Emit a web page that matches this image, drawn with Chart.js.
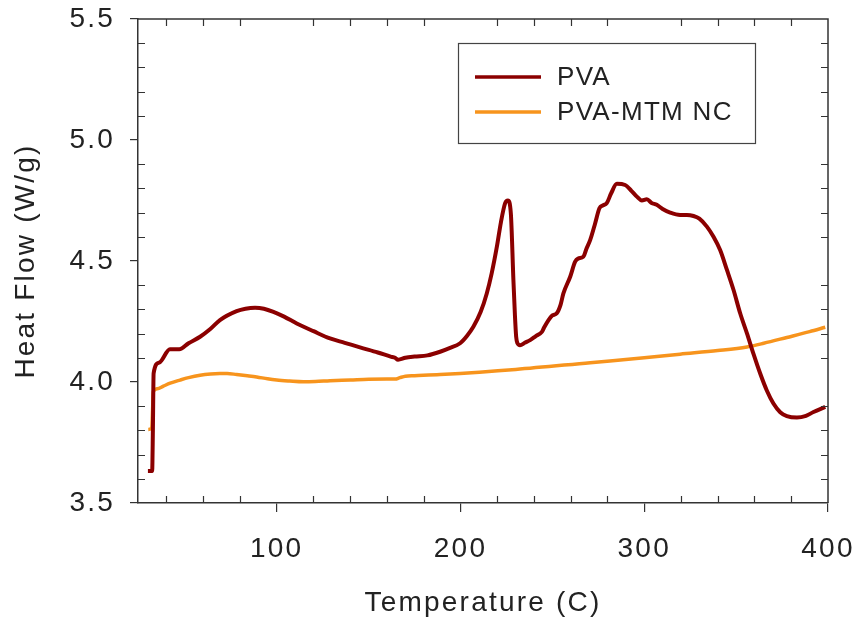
<!DOCTYPE html>
<html>
<head>
<meta charset="utf-8">
<script src="https://cdn.jsdelivr.net/npm/chart.js@4.4.0/dist/chart.umd.min.js"></script>
<style>
  html, body { margin: 0; padding: 0; background: #fff; }
  #wrap { width: 861px; height: 626px; }
</style>
</head>
<body>
<div id="wrap"><canvas id="myChart" width="861" height="626"></canvas></div>
<script>
// DSC curves
const pvaTemp = [29.9, 32.2, 32.6, 33.0, 36.0, 41.9, 47.0, 52, 58.3, 64, 69.1, 78.2, 83, 88.2, 93, 98.2, 104, 110.9, 120, 129,
  137, 145.3, 155, 162, 164.4, 166, 170, 175, 182, 188.9, 194, 199.8, 203.5, 207.0, 211, 214.3, 217, 219.8, 222, 224.3,
  225.8, 227.4, 228.8, 229.6, 230.3, 231, 232.4, 235, 237.9, 241, 244.3, 245.5, 247.9, 250, 252.4, 254.5, 256.0, 259.7,
  262.4, 264, 266.9, 268.5, 270.6, 273.3, 275.6, 277.5, 279.6, 282, 285.1, 289.6, 293, 296.0, 298.7, 301.4, 304, 306.8,
  310, 314.1, 319.5, 323.2, 326.8, 330, 334.1, 337.7, 341.3, 345.0, 348.6, 352.2, 355.9, 359.5, 363.1, 366.7, 370.3,
  374, 377.6, 383.1, 388, 392.1, 398.5];
const pvaFlow = [3.632, 3.632, 3.80, 4.036, 4.08, 4.135, 4.135, 4.16, 4.187, 4.22, 4.256, 4.293, 4.303, 4.307, 4.303, 4.29, 4.27, 4.242, 4.21, 4.18,
  4.162, 4.143, 4.122, 4.105, 4.10, 4.092, 4.10, 4.105, 4.11, 4.125, 4.14, 4.16, 4.19, 4.228, 4.29, 4.366, 4.45, 4.559, 4.66, 4.739,
  4.75, 4.697, 4.421, 4.28, 4.187, 4.16, 4.152, 4.162, 4.173, 4.19, 4.207, 4.225, 4.256, 4.275, 4.284, 4.32, 4.366, 4.435,
  4.497, 4.51, 4.518, 4.55, 4.587, 4.656, 4.718, 4.73, 4.739, 4.78, 4.819, 4.814, 4.79, 4.766, 4.75, 4.755, 4.74, 4.732,
  4.715, 4.70, 4.69, 4.69, 4.686, 4.675, 4.642, 4.60, 4.545, 4.463, 4.38, 4.284, 4.201, 4.115, 4.035, 3.965, 3.911,
  3.875, 3.859, 3.853, 3.86, 3.876, 3.897];

const ncTemp = [30.1, 32.0, 32.5, 32.8, 35, 38.3, 42, 47.4, 52, 58.3, 64, 69.1, 73, 78.2, 84, 89.1, 95, 100, 107, 114.5,
  121, 129, 140, 150, 160, 164.4, 167, 170, 175, 188.9, 230, 270.6, 300, 319.5, 340, 355.9, 365, 377.6, 390, 398.5];
const ncFlow = [3.804, 3.81, 3.90, 3.959, 3.972, 3.983, 3.995, 4.008, 4.018, 4.028, 4.033, 4.035, 4.035, 4.031, 4.026, 4.021, 4.013, 4.008, 4.004, 4.001,
  4.002, 4.005, 4.008, 4.011, 4.012, 4.012, 4.018, 4.024, 4.026, 4.031, 4.052, 4.08, 4.10, 4.115, 4.13, 4.145, 4.16, 4.184, 4.208, 4.226];

const seriesNames = ['PVA', 'PVA-MTM NC'];
const xTicks = [100, 200, 300, 400];
const yTicks = [3.5, 4.0, 4.5, 5.0, 5.5];

const FONT = '"Liberation Sans", Arial, sans-serif';
const INK = '#222';
const AXIS = '#333';

function toPoints(xs, ys) {
    return xs.map((x, i) => ({ x: x, y: ys[i] }));
}

// fixed box sizes, no extra label overflow padding
function fixBox(s, w, h) {
    if (w) s.width = w;
    if (h) s.height = h;
    s.paddingTop = 0;
    s.paddingBottom = 0;
    s.paddingLeft = 0;
    s.paddingRight = 0;
}

// the original text is set with wide tracking
const spacingPlugin = {
    id: 'spacing',
    beforeDraw(chart) {
        chart.ctx.letterSpacing = '2.2px';
    }
};

// inward minor ticks, top/right frame and the boxed legend
const framePlugin = {
    id: 'frame',
    afterDraw(chart) {
        const c = chart.ctx;
        const a = chart.chartArea;
        const xs = chart.scales.x;
        const ys = chart.scales.y;
        c.save();
        c.strokeStyle = AXIS;
        c.lineWidth = 1.5;
        c.beginPath();
        c.moveTo(a.left, a.top);
        c.lineTo(a.right, a.top);
        c.lineTo(a.right, a.bottom);
        c.stroke();

        const len = 7;
        c.lineWidth = 1.2;
        c.beginPath();
        for (let v = 40; v < 400; v += 20) {
            if (v % 100 === 0) continue;
            const px = Math.round(xs.getPixelForValue(v)) + 0.5;
            c.moveTo(px, a.bottom); c.lineTo(px, a.bottom - len);
            c.moveTo(px, a.top); c.lineTo(px, a.top + len);
        }
        for (let k = 36; k < 55; k++) {
            if (k % 5 === 0) continue;
            const py = Math.round(ys.getPixelForValue(k / 10)) + 0.5;
            c.moveTo(a.left, py); c.lineTo(a.left + len, py);
            c.moveTo(a.right, py); c.lineTo(a.right - len, py);
        }
        c.stroke();

        // legend
        const bx = 458, by = 43, bw = 297, bh = 100;
        c.fillStyle = '#fff';
        c.fillRect(bx, by, bw, bh);
        c.strokeStyle = '#444';
        c.lineWidth = 1.2;
        c.strokeRect(bx + 0.5, by + 0.5, bw, bh);
        c.font = '26px ' + FONT;
        c.letterSpacing = '1.3px';
        c.textBaseline = 'middle';
        c.textAlign = 'left';
        chart.data.datasets.forEach((ds, i) => {
            const yy = 77 + i * 35;
            c.strokeStyle = ds.borderColor;
            c.lineWidth = 3.5;
            c.beginPath();
            c.moveTo(475, yy);
            c.lineTo(541, yy);
            c.stroke();
            c.fillStyle = INK;
            c.fillText(ds.label, 557, yy + 1);
        });
        c.restore();
    }
};

const ctx = document.getElementById('myChart').getContext('2d');
const chart = new Chart(ctx, {
    type: 'scatter',
    data: {
        datasets: [{
            label: seriesNames[0],
            data: toPoints(pvaTemp, pvaFlow),
            showLine: true,
            borderColor: '#8b0000',
            borderWidth: 4,
            pointRadius: 0,
            cubicInterpolationMode: 'monotone'
        }, {
            label: seriesNames[1],
            data: toPoints(ncTemp, ncFlow),
            showLine: true,
            borderColor: '#f7941d',
            borderWidth: 3.5,
            pointRadius: 0,
            cubicInterpolationMode: 'monotone'
        }]
    },
    options: {
        responsive: false,
        animation: false,
        layout: { padding: { left: 0, right: 33, top: 19, bottom: 0 } },
        plugins: {
            legend: { display: false },
            tooltip: { enabled: false }
        },
        scales: {
            x: {
                type: 'linear',
                min: 24.5,
                max: 400,
                afterBuildTicks: (s) => { s.ticks = xTicks.map(v => ({ value: v })); },
                afterFit: (s) => fixBox(s, 0, 123),
                border: { display: true, color: AXIS, width: 1.5 },
                grid: { drawOnChartArea: false, drawTicks: true, tickLength: 9, color: AXIS, lineWidth: 1.2 },
                ticks: { color: INK, font: { family: FONT, size: 28 }, padding: 20, maxRotation: 0 },
                title: { display: true, text: 'Temperature (C)', color: INK, font: { family: FONT, size: 28 }, padding: { top: 0, bottom: 6 } }
            },
            y: {
                type: 'linear',
                min: 3.5,
                max: 5.5,
                afterBuildTicks: (s) => { s.ticks = yTicks.map(v => ({ value: v })); },
                afterFit: (s) => fixBox(s, 138, 0),
                border: { display: true, color: AXIS, width: 1.5 },
                grid: { drawOnChartArea: false, drawTicks: true, tickLength: 8, color: AXIS, lineWidth: 1.2 },
                ticks: { color: INK, font: { family: FONT, size: 28 }, padding: 15, callback: (v) => v.toFixed(1) },
                title: { display: true, text: 'Heat Flow (W/g)', color: INK, font: { family: FONT, size: 28 }, padding: { top: 9, bottom: 0 } }
            }
        }
    },
    plugins: [spacingPlugin, framePlugin]
});
</script>
</body>
</html>
